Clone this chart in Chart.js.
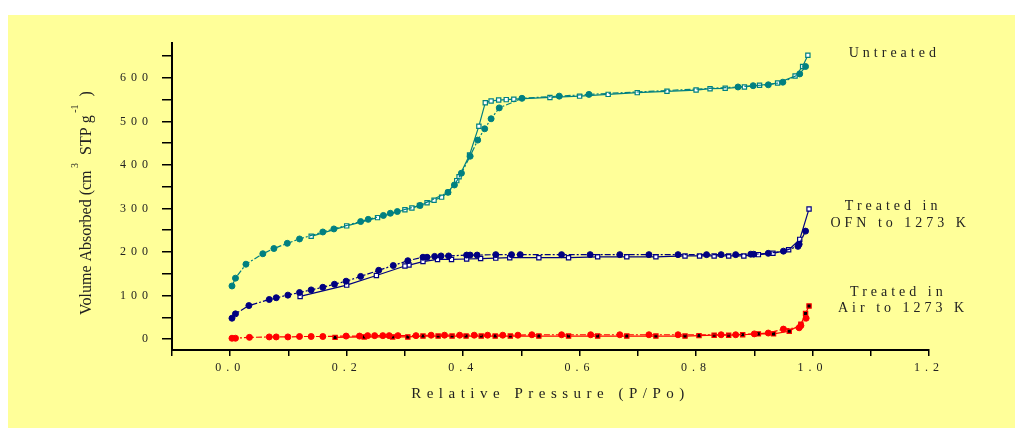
<!DOCTYPE html>
<html>
<head>
<meta charset="utf-8">
<script src="https://cdn.jsdelivr.net/npm/chart.js@4.4.1/dist/chart.umd.min.js"></script>
<style>
  html, body { margin: 0; padding: 0; background: #ffffff; }
  #panel { position: absolute; left: 8px; top: 15px; width: 1007px; height: 413px; background: #ffff99; }
  #wrap { position: absolute; left: 0; top: 0; width: 1015px; height: 428px; }
</style>
</head>
<body>
<div id="panel"></div>
<div id="wrap"><canvas id="isotherm"></canvas></div>
<script>
// ==========================================
// DATA
// ==========================================
// Untreated - adsorption (filled circles) and desorption (open squares)
const untreatedAdsP = [0.003, 0.009, 0.027, 0.056, 0.075, 0.098, 0.119, 0.159, 0.178, 0.224, 0.237, 0.263, 0.275, 0.287, 0.326, 0.374, 0.385, 0.397, 0.412, 0.425, 0.437, 0.448, 0.462, 0.501, 0.565, 0.616, 0.872, 0.898, 0.924, 0.949, 0.978, 0.988];
const untreatedAdsV = [122, 140, 172, 196, 208, 220, 230, 246, 253, 270, 275, 284, 289, 293, 307, 337, 354, 381, 420, 457, 483, 506, 531, 553, 558, 562, 579, 582, 584, 590, 609, 626];
const untreatedDesP = [0.992, 0.983, 0.970, 0.940, 0.909, 0.883, 0.850, 0.824, 0.800, 0.750, 0.699, 0.649, 0.600, 0.549, 0.487, 0.474, 0.461, 0.448, 0.438, 0.427, 0.411, 0.393, 0.389, 0.374, 0.363, 0.350, 0.338, 0.325, 0.312, 0.300, 0.253, 0.200, 0.139];
const untreatedDesV = [652, 626, 604, 588, 583, 579, 576, 575, 572, 569, 566, 562, 558, 555, 551, 550, 549, 547, 543, 489, 423, 373, 364, 337, 326, 319, 313, 307, 301, 297, 279, 260, 236];

// Treated in OFN to 1273 K
const ofnAdsP = [0.003, 0.009, 0.032, 0.067, 0.079, 0.099, 0.119, 0.139, 0.159, 0.179, 0.199, 0.224, 0.255, 0.280, 0.305, 0.331, 0.338, 0.351, 0.362, 0.375, 0.406, 0.412, 0.424, 0.456, 0.483, 0.498, 0.569, 0.618, 0.669, 0.719, 0.769, 0.818, 0.843, 0.868, 0.894, 0.899, 0.924, 0.950, 0.975, 0.977, 0.988];
const ofnAdsV = [48, 58, 77, 91, 95, 101, 107, 113, 119, 126, 133, 144, 158, 169, 180, 188, 188, 190, 191, 191, 193, 193, 193, 194, 194, 194, 194, 194, 194, 194, 194, 194, 194, 194, 195, 195, 197, 202, 213, 218, 248];
const ofnDesP = [0.994, 0.978, 0.959, 0.932, 0.907, 0.882, 0.856, 0.831, 0.806, 0.781, 0.731, 0.681, 0.631, 0.581, 0.530, 0.480, 0.456, 0.430, 0.406, 0.380, 0.356, 0.331, 0.307, 0.300, 0.251, 0.200, 0.120];
const ofnDesV = [299, 229, 205, 197, 194, 191, 191, 191, 191, 191, 189, 189, 189, 187, 187, 187, 186, 185, 184, 183, 183, 178, 170, 168, 146, 124, 98];

// Treated in Air to 1273 K
const airAdsP = [0.003, 0.009, 0.033, 0.067, 0.079, 0.099, 0.119, 0.139, 0.159, 0.199, 0.222, 0.236, 0.248, 0.262, 0.273, 0.288, 0.319, 0.345, 0.368, 0.394, 0.419, 0.442, 0.468, 0.494, 0.518, 0.569, 0.619, 0.669, 0.719, 0.769, 0.843, 0.868, 0.900, 0.924, 0.950, 0.977, 0.980, 0.989];
const airAdsV = [2, 2, 4, 5, 5, 5, 6, 6, 6, 7, 7, 8, 8, 8, 8, 8, 8, 9, 9, 9, 9, 9, 9, 9, 10, 10, 10, 10, 10, 10, 10, 10, 12, 14, 23, 26, 31, 48];
const airDesP = [0.994, 0.988, 0.980, 0.960, 0.933, 0.907, 0.880, 0.856, 0.831, 0.805, 0.781, 0.731, 0.681, 0.631, 0.581, 0.530, 0.481, 0.455, 0.431, 0.405, 0.381, 0.357, 0.331, 0.305, 0.279, 0.230, 0.180];
const airDesV = [76, 59, 34, 18, 12, 12, 10, 9, 9, 8, 7, 7, 7, 7, 7, 7, 7, 7, 7, 7, 7, 7, 7, 5, 5, 5, 4];

// axis ticks and text
const xTickLabels = [0.0, 0.2, 0.4, 0.6, 0.8, 1.0, 1.2];
const yTickLabels = [0, 100, 200, 300, 400, 500, 600];
const noteLines = ['Untreated', 'Treated in', 'OFN to 1273 K', 'Treated in', 'Air to 1273 K'];
const noteX = [1.137, 1.135, 1.147, 1.144, 1.152];
const noteY = [657, 304, 267, 108, 70];

const TEAL = '#008080';
const NAVY = '#000080';
const RED = '#ff0000';
const SERIF = '"Liberation Serif", "Times New Roman", serif';

function pts(px, py) {
  return px.map((p, i) => ({ x: p, y: py[i] }));
}

function ads(label, px, py, color) {
  return {
    label: label, data: pts(px, py), showLine: true,
    borderColor: color, borderWidth: 1.2, borderDash: [6, 2, 2, 2],
    pointStyle: 'circle', pointRadius: 3,
    pointBackgroundColor: color, pointBorderColor: color, pointBorderWidth: 1
  };
}

function des(label, px, py, color, fill) {
  return {
    label: label, data: pts(px, py), showLine: true,
    borderColor: color, borderWidth: 1.2,
    pointStyle: 'rect', pointRadius: 3,
    pointBackgroundColor: fill, pointBorderColor: color, pointBorderWidth: 1.2
  };
}

// ==========================================
// TEXT PLUGIN (spaced tick labels, axis titles, notes)
// ==========================================
const textPlugin = {
  id: 'textPlugin',
  beforeDraw(chart) {
    chart.ctx.letterSpacing = '5px';
  },
  afterDraw(chart) {
    const ctx = chart.ctx;
    const area = chart.chartArea;
    const xs = chart.scales.x, ys = chart.scales.y;
    ctx.save();
    ctx.fillStyle = '#222';

    // x title
    ctx.letterSpacing = '5.5px';
    ctx.font = '15px ' + SERIF;
    ctx.textAlign = 'center';
    ctx.textBaseline = 'alphabetic';
    ctx.fillText('Relative Pressure (P/Po)', (area.left + area.right) / 2, 398);

    // notes
    ctx.letterSpacing = '4px';
    ctx.font = '14px ' + SERIF;
    ctx.textBaseline = 'middle';
    noteLines.forEach((t, i) => {
      ctx.fillText(t, xs.getPixelForValue(noteX[i]) + 2, ys.getPixelForValue(noteY[i]));
    });

    // y title, rotated, with superscripts
    ctx.letterSpacing = '0px';
    ctx.translate(91, 315);
    ctx.rotate(-Math.PI / 2);
    ctx.textAlign = 'left';
    ctx.textBaseline = 'alphabetic';
    let x = 0;
    const part = (txt, size, dy) => {
      ctx.font = size + 'px ' + SERIF;
      ctx.fillText(txt, x, dy);
      x += ctx.measureText(txt).width;
    };
    part('Volume Absorbed (cm', 16, 0);
    part(' 3', 10, -13);
    part('  STP g', 16, 0);
    part(' -1', 10, -13);
    part('  )', 16, 0);
    ctx.restore();
    ctx.letterSpacing = '0px';
  }
};

// ==========================================
// CHART
// ==========================================
const tickFont = { family: SERIF, size: 12 };

new Chart(document.getElementById('isotherm').getContext('2d'), {
  type: 'scatter',
  data: {
    datasets: [
      ads('Untreated adsorption', untreatedAdsP, untreatedAdsV, TEAL),
      des('Untreated desorption', untreatedDesP, untreatedDesV, TEAL, '#ffffff'),
      ads('OFN adsorption', ofnAdsP, ofnAdsV, NAVY),
      des('OFN desorption', ofnDesP, ofnDesV, NAVY, '#ffffff'),
      ads('Air adsorption', airAdsP, airAdsV, RED),
      des('Air desorption', airDesP, airDesV, RED, '#000000')
    ]
  },
  options: {
    responsive: true,
    maintainAspectRatio: false,
    animation: false,
    layout: { padding: { left: 0, top: 43, right: 86, bottom: 0 } },
    plugins: { legend: { display: false }, tooltip: { enabled: false } },
    scales: {
      x: {
        type: 'linear', min: -0.1, max: 1.2,
        border: { display: true, color: '#000', width: 2 },
        grid: { display: true, drawOnChartArea: false, drawTicks: true, tickLength: 6, color: '#000', lineWidth: 1.5 },
        ticks: {
          stepSize: 0.1, includeBounds: false, autoSkip: false, maxRotation: 0, padding: 5,
          color: '#222', font: tickFont,
          callback: v => {
            const hit = xTickLabels.find(t => Math.abs(t - v) < 1e-6);
            return hit === undefined ? '' : hit.toFixed(1);
          }
        },
        afterFit: s => { s.height = 78; }
      },
      y: {
        type: 'linear', min: -25, max: 680,
        border: { display: true, color: '#000', width: 2 },
        grid: { display: true, drawOnChartArea: false, drawTicks: true, tickLength: 10, color: '#000', lineWidth: 1.5 },
        ticks: {
          stepSize: 50, includeBounds: false, autoSkip: false, padding: 9,
          color: '#222', font: tickFont,
          callback: v => yTickLabels.includes(v) ? String(v) : ''
        },
        afterFit: s => { s.width = 172; }
      }
    }
  },
  plugins: [textPlugin]
});
</script>
</body>
</html>
